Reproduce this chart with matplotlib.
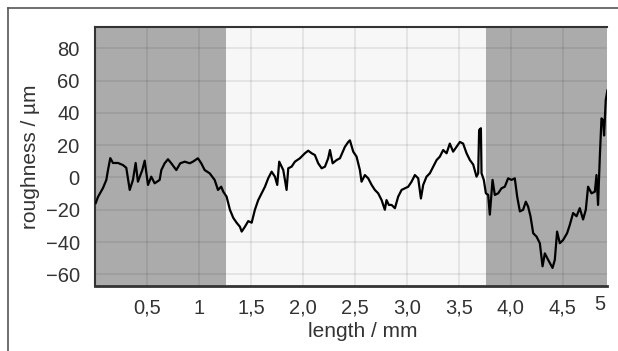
import matplotlib
matplotlib.use("Agg")
import matplotlib.pyplot as plt
from matplotlib.lines import Line2D
from matplotlib.transforms import blended_transform_factory

# ---- data ----
length_mm = [
    0.007, 0.029, 0.077, 0.109, 0.125, 0.147, 0.173, 0.221, 0.269, 0.301,
    0.334, 0.365, 0.391, 0.413, 0.455, 0.478, 0.510, 0.541, 0.574, 0.622,
    0.638, 0.670, 0.702, 0.734, 0.782, 0.820, 0.863, 0.911, 0.942, 0.990,
    1.022, 1.055, 1.103, 1.151, 1.183, 1.214, 1.234, 1.266, 1.298, 1.330,
    1.362, 1.394, 1.411, 1.442, 1.474, 1.507, 1.538, 1.570, 1.603, 1.635,
    1.666, 1.699, 1.731, 1.753, 1.772, 1.811, 1.843, 1.859, 1.891, 1.923,
    1.971, 2.019, 2.051, 2.084, 2.115, 2.147, 2.180, 2.212, 2.243, 2.260,
    2.286, 2.324, 2.356, 2.404, 2.436, 2.452, 2.484, 2.516, 2.548, 2.564,
    2.596, 2.628, 2.661, 2.692, 2.724, 2.757, 2.788, 2.804, 2.827, 2.853,
    2.885, 2.916, 2.949, 2.981, 3.013, 3.045, 3.077, 3.109, 3.135, 3.157,
    3.189, 3.221, 3.253, 3.286, 3.317, 3.349, 3.382, 3.413, 3.445, 3.478,
    3.510, 3.541, 3.574, 3.606, 3.638, 3.670, 3.686, 3.695, 3.712, 3.718,
    3.740, 3.760, 3.782, 3.798, 3.824, 3.846, 3.878, 3.910, 3.942, 3.974,
    4.007, 4.038, 4.061, 4.087, 4.118, 4.144, 4.166, 4.189, 4.215, 4.247,
    4.279, 4.305, 4.327, 4.359, 4.401, 4.423, 4.445, 4.471, 4.503, 4.541,
    4.567, 4.599, 4.632, 4.663, 4.695, 4.721, 4.743, 4.776, 4.808, 4.824,
    4.839, 4.856, 4.872, 4.887, 4.897, 4.913, 4.929,
]
roughness_um = [
    -15.8, -12, -6.5, -1.5, 4.6, 12, 9, 9, 7.7, 6,
    -7.7, -1.5, 9, -2.6, 4.6, 10.4, -4.6, 0.5, -3.6, -1.5,
    4.6, 8.8, 11.3, 8.8, 4.6, 8.8, 9.8, 8.8, 9.8, 11.9,
    8.8, 4.6, 2.6, -1.5, -7.7, -5.7, -8.8, -11.9, -20, -25,
    -28, -30.5, -33.5, -30.5, -27, -28, -20, -14, -9.8, -5.7,
    -0.5, 3.6, 0.5, -4.6, 9.8, 4.6, -7.7, 5.7, 6.7, 9.8,
    11.9, 15, 16.6, 15, 13.9, 8.8, 5.7, 6.7, 11.9, 17,
    8.8, 10.8, 11.9, 19, 22, 23, 16, 12.9, 4.6, -2.6,
    1.5, -0.5, -4.6, -7.7, -9.8, -14, -20, -14, -17, -17,
    -19, -11.9, -7.7, -6.7, -5.7, -2.6, 1.5, -0.5, -13, -4.6,
    0.5, 2.6, 6.7, 10.8, 12.9, 17, 15, 21, 16, 19,
    22, 21, 15, 10.8, 8, 0.5, 2.6, 29.4, 30.5, 2.6,
    -1.5, -9.8, -10.8, -23, -1.5, -10.8, -9.8, -6.7, -5.7, -0.5,
    -1.5, -0.5, -11.9, -21, -20, -15, -18, -24, -34.5, -36.6,
    -40.7, -55, -47, -51, -56, -51, -33.5, -40.7, -38.7, -34.5,
    -29.4, -22, -24, -19, -26, -20, -5.7, -9.8, -8.8, 1.5,
    -17, 12.9, 36.6, 35.6, 26, 48, 54,
]
shaded_regions = [(0.0, 1.26), (3.76, 4.925)]
x_ticks = [0.5, 1.0, 1.5, 2.0, 2.5, 3.0, 3.5, 4.0, 4.5]
x_tick_labels = ["0,5", "1", "1,5", "2,0", "2,5", "3,0", "3,5", "4,0", "4,5"]
last_tick_pos = 4.86
last_tick_label = "5"
y_ticks = [-60, -40, -20, 0, 20, 40, 60, 80]
x_label = "length / mm"
y_label = "roughness / µm"

plt.rcParams["font.family"] = ["Liberation Sans", "DejaVu Sans"]
text_color = "#333333"

fig = plt.figure(figsize=(6.18, 3.51), dpi=100)
ax = fig.add_axes([95 / 618, 1 - 286 / 351, 512 / 618, 259 / 351])
ax.set_facecolor("#f7f7f7")

for a, b in shaded_regions:
    ax.axvspan(a, b, color="#ababab", zorder=0.2, lw=0)

ax.set_axisbelow(True)
ax.grid(True, color="black", alpha=0.09, lw=1.2)

ax.plot(length_mm, roughness_um, color="black", lw=1.6, zorder=3)

ax.set_xlim(0, 4.925)
ax.set_ylim(-67.2, 93.2)
ax.set_xticks(x_ticks)
ax.set_xticklabels(x_tick_labels)
ax.set_yticks(y_ticks)
ax.tick_params(axis="both", length=0, labelsize=14.5, colors=text_color)
ax.tick_params(axis="x", pad=9)
ax.tick_params(axis="y", pad=11)

trans = blended_transform_factory(ax.transData, ax.transAxes)
ax.text(last_tick_pos, -0.035, last_tick_label, transform=trans, ha="center",
        va="top", fontsize=14.5, color=text_color)

ax.set_xlabel(x_label, fontsize=15, color=text_color)
ax.xaxis.set_label_coords(0.523, -0.14)
ax.set_ylabel(y_label, fontsize=15, color=text_color)
ax.yaxis.set_label_coords(-0.108, 0.5)

for side in ["top", "bottom", "left"]:
    ax.spines[side].set_color("#333333")
ax.spines["top"].set_linewidth(1.5)
ax.spines["bottom"].set_linewidth(2.0)
ax.spines["left"].set_linewidth(1.5)
ax.spines["right"].set_visible(False)

# outer frame lines (top and left)
fig.add_artist(Line2D([8 / 618, 8 / 618], [0, 1 - 8 / 351], transform=fig.transFigure,
                      color="#555555", lw=1.2))
fig.add_artist(Line2D([8 / 618, 1], [1 - 8 / 351, 1 - 8 / 351], transform=fig.transFigure,
                      color="#555555", lw=1.2))

fig.savefig("out.png", dpi=100)
